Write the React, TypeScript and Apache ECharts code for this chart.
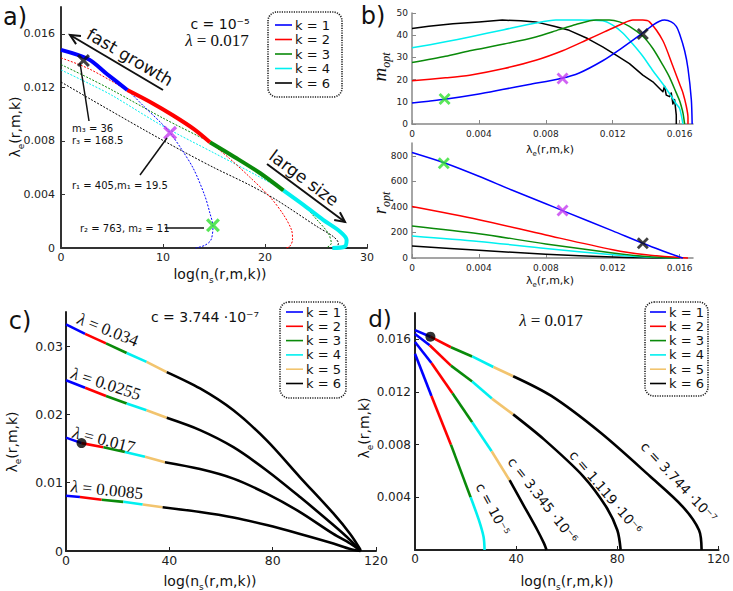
import React, { useEffect, useRef } from "react";
import * as echarts from "echarts";

// ---------- colours per k ----------
const kColors: Record<number, string> = {
  1: "#0000ff",
  2: "#ff0000",
  3: "#0a8a0a",
  4: "#00f0f0",
  5: "#f2c46e",
  6: "#000000",
};

// ---------- Panel a: c = 1e-5, lambda = 0.017 ; [log(ns), lambda_e] ----------
const aK1: number[][] = [[0, 0.0148], [2.7, 0.0141], [4.5, 0.0130], [6.5, 0.0118], [8.1, 0.0106], [10, 0.0092], [10.7, 0.0086], [11.8, 0.0074], [13, 0.0059], [14.1, 0.0039], [14.6, 0.0026], [14.9, 0.0016], [14.7, 0.0006], [14.1, 0.0002], [13.2, 0]];
const aK2: number[][] = [[0, 0.0142], [2.7, 0.0134], [6.5, 0.0118], [9, 0.0108], [11, 0.0099], [13, 0.0089], [14.6, 0.0079], [16.5, 0.0067], [18.5, 0.0053], [20.5, 0.0038], [21.8, 0.0025], [22.6, 0.00135], [22.7, 0.0006], [22.4, 0.0001], [22, 0]];
const aK3: number[][] = [[0, 0.0137], [2.7, 0.0127], [5, 0.0118], [10, 0.0097], [14.6, 0.0079], [17, 0.0068], [19.5, 0.0056], [21.8, 0.0043], [23.4, 0.0035], [25.1, 0.0021], [26.2, 0.0011], [26.5, 0.00035], [26, 0]];
const aK4: number[][] = [[0, 0.0133], [2.7, 0.0123], [5, 0.0114], [10, 0.0091], [15, 0.0071], [19, 0.0055], [21.8, 0.0043], [23.8, 0.0032], [25.7, 0.0021], [27.4, 0.0012], [28, 0.0006], [27.8, 0.0001], [26.6, 0]];
const aK6: number[][] = [[0, 0.0124], [2.7, 0.0112], [8.2, 0.0088], [12, 0.0072], [15, 0.0060], [18.5, 0.0047], [21.1, 0.0036], [25.1, 0.0016], [26.7, 0.00085], [27.2, 0.00035], [27, 0]];
// index ranges of the optimal (thick) part of each curve
const aThickK1 = [0, 3];
const aThickK2 = [2, 6];
const aThickK3 = [4, 7];
const aThickK4 = [6, 12];
const aCrossBlack = [2.2, 0.014];
const aCrossMagenta = [10.7, 0.0086];
const aCrossGreen = [14.9, 0.0017];
const aLegend = [1, 2, 3, 4, 6];

// ---------- Panel b top: m_opt vs lambda_e ----------
const bM1: number[][] = [[0, 9.5], [0.001, 10.3], [0.00195, 11.1], [0.004, 13.5], [0.0054, 15.5], [0.007, 17.8], [0.0089, 20.5], [0.01, 23], [0.0114, 28.5], [0.0125, 34], [0.0137, 40.5], [0.0144, 44.5], [0.0148, 46.3], [0.0151, 46.8], [0.0155, 46], [0.0158, 44], [0.016, 40.5], [0.0163, 33], [0.0165, 25], [0.0167, 11], [0.01675, 0]];
const bM2: number[][] = [[0, 19.5], [0.002, 20.8], [0.00345, 22], [0.0055, 25], [0.0074, 28.7], [0.009, 33], [0.0104, 37.7], [0.0115, 41.5], [0.0126, 45.3], [0.0132, 46.8], [0.0138, 46.8], [0.0142, 46], [0.015, 37.5], [0.0156, 26], [0.016, 18], [0.0162, 14], [0.0164, 8], [0.0165, 3], [0.0165, 0]];
const bM3: number[][] = [[0, 27.7], [0.002, 30.5], [0.00345, 33], [0.0055, 36], [0.0074, 39.2], [0.0088, 42.5], [0.0098, 44.8], [0.011, 46.8], [0.0118, 46.8], [0.0124, 46], [0.013, 44], [0.0138, 39.5], [0.0144, 34], [0.015, 26.5], [0.0154, 21], [0.0158, 14], [0.016, 10.5], [0.0161, 8], [0.0162, 5], [0.0163, 0]];
const bM4: number[][] = [[0, 34.3], [0.002, 37], [0.00345, 39.2], [0.0055, 42.5], [0.0074, 45.5], [0.0086, 46.8], [0.01, 46.8], [0.0114, 46.5], [0.012, 44.5], [0.0126, 41], [0.0132, 36], [0.0138, 30.5], [0.0144, 24], [0.015, 18], [0.0155, 12.5], [0.0158, 9], [0.016, 7], [0.0161, 4], [0.0162, 0]];
const bM6: number[][] = [[0, 43], [0.001, 44], [0.00245, 45.2], [0.004, 46], [0.0054, 46.8], [0.0065, 46.5], [0.0074, 46], [0.0085, 44], [0.0094, 42.2], [0.0105, 38.5], [0.0114, 34.7], [0.0122, 31], [0.013, 27.2], [0.0138, 22], [0.0144, 19], [0.0148, 16], [0.015, 14.5], [0.0151, 17], [0.0152, 13], [0.0154, 12.3], [0.0155, 14], [0.0156, 9], [0.0157, 11], [0.0158, 4], [0.0158, 0]];
const bMCrossGreen = [0.00195, 11.3];
const bMCrossMagenta = [0.009, 20.5];
const bMCrossBlack = [0.0138, 40.5];

// ---------- Panel b bottom: r_opt vs lambda_e ----------
const bR1: number[][] = [[0, 826], [0.002, 742], [0.004, 640], [0.006, 530], [0.008, 425], [0.009, 371], [0.012, 212], [0.0138, 115], [0.015, 55], [0.016, 8], [0.0162, 0]];
const bR2: number[][] = [[0, 403], [0.004, 300], [0.008, 180], [0.012, 65], [0.014, 25], [0.016, 3], [0.0165, 0]];
const bR3: number[][] = [[0, 251], [0.004, 190], [0.008, 110], [0.012, 40], [0.014, 12], [0.016, 0]];
const bR4: number[][] = [[0, 173], [0.004, 130], [0.008, 75], [0.012, 25], [0.014, 8], [0.016, 0]];
const bR6: number[][] = [[0, 94], [0.004, 60], [0.008, 30], [0.012, 8], [0.014, 2], [0.016, 0]];
const bRCrossGreen = [0.0019, 742];
const bRCrossMagenta = [0.009, 371];
const bRCrossBlack = [0.0138, 115];

// ---------- Panel c: c = 3.744e-7, curves for several lambda ----------
const cLam0034: number[][] = [[0, 0.0332], [7.4, 0.0318], [15.5, 0.0304], [23.5, 0.029], [31.2, 0.0277], [39, 0.0262], [51.9, 0.0238], [64.8, 0.0206], [77.7, 0.0162], [90.6, 0.0108], [103.5, 0.0055], [110, 0.0025], [113.8, 0.0003], [114, 0]];
const cLam00255: number[][] = [[0, 0.025], [7.4, 0.0239], [15.5, 0.0227], [23.5, 0.0216], [31.2, 0.0206], [39, 0.0195], [51.9, 0.0177], [64.8, 0.0152], [77.7, 0.0118], [90.6, 0.0079], [103.5, 0.0038], [110, 0.0016], [114, 0]];
const cLam0017: number[][] = [[0, 0.0166], [6, 0.0158], [14.5, 0.0152], [22.8, 0.0145], [30.6, 0.0138], [38.3, 0.013], [51.9, 0.012], [64.8, 0.0106], [77.7, 0.0084], [90.6, 0.0057], [103.5, 0.0025], [110, 0.0011], [114, 0]];
const cLam00085: number[][] = [[0, 0.0081], [5.4, 0.0079], [13.8, 0.0075], [22.2, 0.0072], [29.7, 0.0068], [37.4, 0.0064], [51.9, 0.0057], [64.8, 0.0049], [77.7, 0.0038], [90.6, 0.0025], [103.5, 0.0011], [110, 0.0003], [114, 0]];
const cBreaks = [0, 1, 2, 3, 4, 5]; // start index of k = 1..6 segments
const cDot = [6, 0.0158];
const cLegend = [1, 2, 3, 4, 5, 6];
const cCurveLabels = ["0.034", "0.0255", "0.017", "0.0085"];

// ---------- Panel d: lambda = 0.017, curves for several c ----------
const dC1e5: number[][] = [[0, 0.0149], [6.5, 0.0117], [14.2, 0.008], [22, 0.004], [25.2, 0.0023], [27.1, 0.001], [27.5, 0]];
const dC3345e6: number[][] = [[0, 0.0158], [6.5, 0.0142], [14.8, 0.0119], [22.6, 0.0097], [30.3, 0.0075], [37.4, 0.0053], [43.2, 0.0033], [48.4, 0.0015], [51, 0.0005], [52, 0]];
const dC1119e6: number[][] = [[0, 0.0164], [5.8, 0.01555], [14.2, 0.014], [22.6, 0.0128], [30.4, 0.0115], [38.8, 0.0103], [51, 0.0084], [66.5, 0.0056], [75.5, 0.0033], [80, 0.0015], [81.3, 0]];
const dC3744e7: number[][] = [[0, 0.0167], [6.1, 0.0162], [14.2, 0.0154], [22.6, 0.0147], [31, 0.0139], [38.8, 0.0132], [53.9, 0.0117], [73.4, 0.0089], [92.9, 0.0056], [105.8, 0.0033], [112.3, 0.0015], [113.3, 0]];
const dBreaks4 = [0, 1, 2, 3];
const dBreaks6 = [0, 1, 2, 3, 4, 5];
const dDot = [6.1, 0.0162];
const dCurveLabels = ["c = 10⁻⁵", "c = 3.345 ·10⁻⁶", "c = 1.119 ·10⁻⁶", "c = 3.744 ·10⁻⁷"];

// ---------- tick settings ----------
const aX = { min: 0, max: 30, interval: 10 };
const aY = { min: 0, max: 0.018, interval: 0.004 };
const bX = { min: 0, max: 0.0168, interval: 0.004 };
const bTopY = { min: 0, max: 50, interval: 10 };
const bBotY = { min: 0, max: 900, interval: 200 };
const cX = { min: 0, max: 120, interval: 40 };
const cY = { min: 0, max: 0.035, interval: 0.01 };
const dX = { min: 0, max: 120, interval: 40 };
const dY = { min: 0, max: 0.018, interval: 0.004 };

const SANS = "DejaVu Sans";
const SERIF = "Liberation Serif";
const CROSS = "path://M0,2L2,0L6,4L10,0L12,2L8,6L12,10L10,12L6,8L2,12L0,10L4,6Z";

function segmentsOf(points: number[][], breaks: number[]) {
  const out: { k: number; data: number[][] }[] = [];
  for (let i = 0; i < breaks.length; i++) {
    const s = breaks[i];
    const e = i + 1 < breaks.length ? breaks[i + 1] : points.length - 1;
    out.push({ k: i + 1, data: points.slice(s, e + 1) });
  }
  return out;
}

function line(idx: number, data: number[][], color: string, width: number, dotted = false, z = 2, smooth: any = 0.3) {
  return {
    type: "line",
    xAxisIndex: idx,
    yAxisIndex: idx,
    data,
    symbol: "none",
    silent: true,
    clip: false,
    smooth,
    z,
    lineStyle: { color, width, type: dotted ? [2, 1.5] : "solid", cap: "butt", join: "round" },
  };
}

function cross(idx: number, p: number[], color: string, size: number) {
  return {
    type: "scatter",
    xAxisIndex: idx,
    yAxisIndex: idx,
    data: [p],
    symbol: CROSS,
    symbolSize: size,
    silent: true,
    z: 10,
    itemStyle: { color },
  };
}

function dot(idx: number, p: number[]) {
  return {
    type: "scatter",
    xAxisIndex: idx,
    yAxisIndex: idx,
    data: [p],
    symbol: "circle",
    symbolSize: 10,
    silent: true,
    z: 10,
    itemStyle: { color: "#000" },
  };
}

function axis(
  idx: number,
  range: any,
  lineColor: string,
  lineW: number,
  fontSize: number,
  margin: number,
  opts: any = {}
) {
  return {
    type: "value",
    gridIndex: idx,
    ...range,
    axisLine: { show: true, onZero: false, lineStyle: { color: lineColor, width: lineW } },
    axisTick: { show: true, inside: true, length: 4, lineStyle: { color: lineColor, width: 1 } },
    splitLine: { show: false },
    axisLabel: {
      color: "#222",
      fontSize,
      fontFamily: SANS,
      margin,
      showMaxLabel: opts.showMax ?? false,
      showMinLabel: opts.showMin ?? true,
    },
  };
}

const subRich = (size: number, family = SANS, style = "normal") => ({
  n: { fontSize: size, fontFamily: family, fontStyle: style, lineHeight: size + 6, verticalAlign: "middle", fill: "#111" },
  s: { fontSize: Math.round(size * 0.65), fontFamily: family, fontStyle: style, lineHeight: Math.round(size * 0.65), verticalAlign: "bottom", fill: "#111" },
});

function text(x: number, y: number, t: string, size: number, extra: any = {}) {
  const { rot, family, fontStyle, rich, align, fill } = extra;
  return {
    type: "text",
    x,
    y,
    rotation: rot || 0,
    silent: true,
    z: 20,
    style: {
      text: t,
      fontSize: size,
      fontFamily: family || SANS,
      fontStyle: fontStyle || "normal",
      fill: fill || "#111",
      align: align || "center",
      verticalAlign: "middle",
      rich,
    },
  };
}

function arrow(x1: number, y1: number, x2: number, y2: number) {
  const dx = x2 - x1;
  const dy = y2 - y1;
  const len = Math.hypot(dx, dy);
  const ux = dx / len;
  const uy = dy / len;
  const h = 11;
  const a = 0.45;
  const p1 = [x2 - h * (ux * Math.cos(a) - uy * Math.sin(a)), y2 - h * (uy * Math.cos(a) + ux * Math.sin(a))];
  const p2 = [x2 - h * (ux * Math.cos(a) + uy * Math.sin(a)), y2 - h * (uy * Math.cos(a) - ux * Math.sin(a))];
  return [
    { type: "line", silent: true, z: 20, shape: { x1, y1, x2, y2 }, style: { stroke: "#111", lineWidth: 2 } },
    { type: "polyline", silent: true, z: 20, shape: { points: [p1, [x2, y2], p2] }, style: { stroke: "#111", lineWidth: 2, fill: null } },
  ];
}

function seg(x1: number, y1: number, x2: number, y2: number) {
  return { type: "line", silent: true, z: 20, shape: { x1, y1, x2, y2 }, style: { stroke: "#111", lineWidth: 1.5 } };
}

function legend(x: number, y: number, w: number, h: number, ks: number[], y0: number, dy: number, lx: number, lw: number, fs: number) {
  const els: any[] = [
    {
      type: "rect",
      silent: true,
      z: 20,
      shape: { x, y, width: w, height: h, r: 9 },
      style: { fill: "#fff", stroke: "#222", lineWidth: 1.6, lineDash: [1.2, 1.2] },
    },
  ];
  ks.forEach((k, i) => {
    const yy = y0 + i * dy;
    els.push({ type: "line", silent: true, z: 21, shape: { x1: lx, y1: yy, x2: lx + lw, y2: yy }, style: { stroke: kColors[k], lineWidth: 1.6 } });
    els.push(text(lx + lw + 3, yy, `k = ${k}`, fs, { align: "left" }));
  });
  return els;
}

export default function App() {
  const ref = useRef<HTMLDivElement>(null);

  useEffect(() => {
    if (!ref.current) return;
    const chart = echarts.init(ref.current, undefined, { renderer: "svg" });

    const series: any[] = [];
    // panel a
    const aCurves: [number[][], number, number[] | null][] = [
      [aK6, 6, null],
      [aK4, 4, aThickK4],
      [aK3, 3, aThickK3],
      [aK2, 2, aThickK2],
      [aK1, 1, aThickK1],
    ];
    aCurves.forEach(([pts, k]) => series.push(line(0, pts, kColors[k], 1, true, 2)));
    aCurves.forEach(([pts, k, th]) => {
      if (th) series.push(line(0, pts.slice(th[0], th[1] + 1), kColors[k], 4, false, 4));
    });
    series.push(cross(0, aCrossBlack, "#111", 13));
    series.push(cross(0, aCrossMagenta, "#c43cf0", 14));
    series.push(cross(0, aCrossGreen, "#2fe02f", 14));

    // panel b
    ([[bM6, 6], [bM4, 4], [bM3, 3], [bM2, 2], [bM1, 1]] as [number[][], number][]).forEach(([d, k]) =>
      series.push(line(1, d, kColors[k], 1.5, false, 2, k === 6 ? false : 0.25))
    );
    series.push(cross(1, bMCrossGreen, "#2fe02f", 12));
    series.push(cross(1, bMCrossMagenta, "#c43cf0", 12));
    series.push(cross(1, bMCrossBlack, "#111", 12));
    ([[bR6, 6], [bR4, 4], [bR3, 3], [bR2, 2], [bR1, 1]] as [number[][], number][]).forEach(([d, k]) =>
      series.push(line(2, d, kColors[k], 1.5))
    );
    series.push(cross(2, bRCrossGreen, "#2fe02f", 12));
    series.push(cross(2, bRCrossMagenta, "#c43cf0", 12));
    series.push(cross(2, bRCrossBlack, "#111", 12));

    // panel c
    [cLam0034, cLam00255, cLam0017, cLam00085].forEach((pts) =>
      segmentsOf(pts, cBreaks).forEach((s) => series.push(line(3, s.data, kColors[s.k], 2.6)))
    );
    series.push(dot(3, cDot));

    // panel d
    segmentsOf(dC1e5, dBreaks4).forEach((s) => series.push(line(4, s.data, kColors[s.k], 2.6)));
    [dC3345e6, dC1119e6, dC3744e7].forEach((pts) =>
      segmentsOf(pts, dBreaks6).forEach((s) => series.push(line(4, s.data, kColors[s.k], 2.6)))
    );
    series.push(dot(4, dDot));

    const grids = [
      { left: 61, top: 7, width: 306, height: 241 },
      { left: 412, top: 13, width: 281, height: 111 },
      { left: 412, top: 143, width: 281, height: 115 },
      { left: 66, top: 312, width: 310, height: 239 },
      { left: 415, top: 313, width: 307, height: 237 },
    ];

    const lamRich = {
      i: { fontSize: 17, fontFamily: SERIF, fontStyle: "italic", fill: "#111" },
      n: { fontSize: 17, fontFamily: SERIF, fill: "#111" },
    };
    const lamText = (v: string) => "{i|λ}{n| = " + v + "}";

    const graphic: any[] = [
      // panel labels
      text(15, 17, "a)", 24),
      text(373, 16, "b)", 24),
      text(20, 321, "c)", 24),
      text(380, 319, "d)", 23),
      // axis names
      text(15, 127, "{n|λ}{s|e}{n|(r,m,k)}", 14, { rot: Math.PI / 2, rich: subRich(14) }),
      text(220, 274, "{n|log(n}{s|s}{n|(r,m,k))}", 14, { rich: subRich(14) }),
      text(379, 67, "{n|m}{s|opt}", 19, { rot: Math.PI / 2, rich: subRich(19, SERIF, "italic") }),
      text(379, 203, "{n|r}{s|opt}", 19, { rot: Math.PI / 2, rich: subRich(19, SERIF, "italic") }),
      text(550, 149, "{n|λ}{s|e}{n|(r,m,k)}", 11, { rich: subRich(11) }),
      text(550, 280, "{n|λ}{s|e}{n|(r,m,k)}", 11, { rich: subRich(11) }),
      text(12, 442, "{n|λ}{s|e}{n|(r,m,k)}", 14, { rot: Math.PI / 2, rich: subRich(14) }),
      text(210, 581, "{n|log(n}{s|s}{n|(r,m,k))}", 14, { rich: subRich(14) }),
      text(364, 428, "{n|λ}{s|e}{n|(r,m,k)}", 14, { rot: Math.PI / 2, rich: subRich(14) }),
      text(567, 581, "{n|log(n}{s|s}{n|(r,m,k))}", 14, { rich: subRich(14) }),
      // panel a annotations
      text(220, 24, "c = 10⁻⁵", 14),
      text(217, 40, lamText("0.017"), 17, { rich: lamRich }),
      text(130, 57, "fast growth", 17, { rot: -0.53 }),
      ...arrow(163, 90, 70, 35),
      text(304, 178, "large size", 17, { rot: -0.64 }),
      ...arrow(267, 164, 345, 222),
      text(72, 128, "m₃ = 36", 10, { align: "left" }),
      text(72, 140, "r₃ = 168.5", 10, { align: "left" }),
      seg(80, 63, 89, 121),
      text(72, 185, "r₁ = 405,m₁ = 19.5", 10, { align: "left" }),
      seg(140, 175, 167, 138),
      text(80, 228, "r₂ = 763, m₂ = 11", 10, { align: "left" }),
      seg(165, 228, 204, 228),
      ...legend(268, 12, 74, 85, aLegend, 25, 14.5, 275, 17, 13),
      // panel c annotations
      text(205, 317, "c = 3.744 ·10⁻⁷", 14),
      text(108, 330, lamText(cCurveLabels[0]), 17, { rot: -0.38, rich: lamRich }),
      text(106, 384, lamText(cCurveLabels[1]), 17, { rot: -0.31, rich: lamRich }),
      text(104, 440, lamText(cCurveLabels[2]), 17, { rot: -0.25, rich: lamRich }),
      text(107, 490, lamText(cCurveLabels[3]), 17, { rot: -0.1, rich: lamRich }),
      ...legend(280, 302, 66, 96, cLegend, 312, 14.3, 286, 17, 13),
      // panel d annotations
      text(551, 320, lamText("0.017"), 17, { rich: lamRich }),
      text(493, 509, dCurveLabels[0], 13.5, { rot: -1.08 }),
      text(543, 500, dCurveLabels[1], 13.5, { rot: -0.91 }),
      text(606, 492, dCurveLabels[2], 13.5, { rot: -0.87 }),
      text(679, 482, dCurveLabels[3], 13.5, { rot: -0.82 }),
      ...legend(645, 302, 63, 94, cLegend, 312, 14.3, 650, 16, 13),
    ];

    chart.setOption({
      animation: false,
      backgroundColor: "#fff",
      grid: grids,
      xAxis: [
        axis(0, aX, "#333", 2, 11, 4, { showMax: true }),
        axis(1, bX, "#888", 1.5, 9, 5),
        axis(2, bX, "#888", 1.5, 9, 5),
        axis(3, cX, "#222", 2, 12.5, 3, { showMax: true }),
        axis(4, dX, "#222", 2, 12, 3, { showMax: true }),
      ],
      yAxis: [
        axis(0, aY, "#333", 2, 11, 6),
        axis(1, bTopY, "#888", 1.5, 9, 4, { showMax: true }),
        axis(2, bBotY, "#888", 1.5, 9, 4),
        axis(3, cY, "#222", 2, 12.5, 3),
        axis(4, dY, "#222", 2, 12, 4, { showMin: false }),
      ],
      series,
      graphic,
    });

    return () => chart.dispose();
  }, []);

  return (
    <div
      ref={ref}
      style={{ position: "fixed", left: 0, top: 0, width: 733, height: 591, background: "#fff" }}
    />
  );
}
